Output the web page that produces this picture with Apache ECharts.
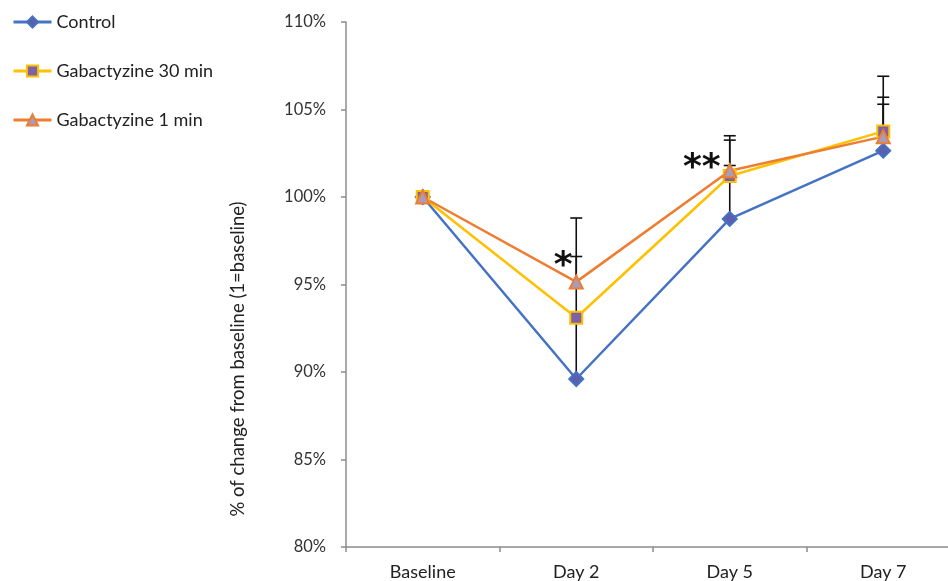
<!DOCTYPE html>
<html>
<head>
<meta charset="utf-8">
<script src="https://cdn.jsdelivr.net/npm/echarts@6/dist/echarts.min.js"></script>
<style>
  html, body { margin: 0; padding: 0; background: #fff; overflow: hidden; }
  /* plot runs past the right edge of the window, like the cropped original */
  #main { width: 960px; height: 581px; }
</style>
</head>
<body>
<div id="main"></div>
<script>
// data
const categories = ['Baseline', 'Day 2', 'Day 5', 'Day 7'];
const control = [100, 89.6, 98.75, 102.65];
const gaba30 = [100, 93.1, 101.2, 103.75];
const gaba1 = [100, 95.15, 101.5, 103.45];
// upper error amounts (only plus side is drawn)
const errControl = [0, 9.2, 4.75, 4.25];
const errGaba30 = [0, 0, 0.6, 1.55];
const errGaba1 = [0, 1.45, 1.75, 2.25];
const yTicks = { min: 80, max: 110, step: 5 };
const stars = [['Day 2', 96.6, '*'], ['Day 5', 102.2, '**']];
const yTitle = '% of change from baseline (1=baseline)';

const chart = echarts.init(document.getElementById('main'));
const FONT = 'Lato';

// one row per error bar: [catIndex, low, high]
function errRows(vals, errs) {
    const rows = [];
    vals.forEach((v, i) => { if (errs[i] > 0) rows.push([i, v, v + errs[i]]); });
    return rows;
}
const errData = [].concat(
    errRows(control, errControl),
    errRows(gaba30, errGaba30),
    errRows(gaba1, errGaba1)
);

function lineSeries(name, data, symbol, size, lineColor, fill) {
    return {
        name: name,
        type: 'line',
        data: data,
        symbol: symbol,
        symbolSize: size,
        z: 3,
        lineStyle: { color: lineColor, width: 2.5 },
        itemStyle: { color: fill, borderColor: lineColor, borderWidth: 2 }
    };
}

const option = {
    animation: false,
    backgroundColor: '#fff',
    textStyle: { fontFamily: FONT },
    legend: {
        orient: 'vertical',
        left: 7,
        top: 8,
        itemWidth: 38,
        itemHeight: 14,
        itemGap: 31,
        lineStyle: { width: 3 },
        textStyle: { fontFamily: FONT, fontSize: 18, color: '#222' },
        data: ['Control', 'Gabactyzine 30 min', 'Gabactyzine 1 min']
    },
    grid: { left: 346, right: 0, top: 22, bottom: 34 },
    graphic: [{
        type: 'text',
        x: 238,
        y: 359,
        rotation: Math.PI / 2,
        style: {
            text: yTitle,
            align: 'center',
            verticalAlign: 'middle',
            fontFamily: FONT,
            fontSize: 18.5,
            fill: '#222'
        }
    }],
    xAxis: {
        type: 'category',
        data: categories,
        boundaryGap: true,
        axisLine: { lineStyle: { color: '#8c8c8c', width: 1.5 } },
        axisTick: { show: true, length: 5, lineStyle: { color: '#8c8c8c', width: 1.5 } },
        axisLabel: { fontFamily: FONT, fontSize: 18, color: '#222', margin: 16 }
    },
    yAxis: {
        type: 'value',
        min: yTicks.min,
        max: yTicks.max,
        interval: yTicks.step,
        splitLine: { show: false },
        axisLine: { show: true, lineStyle: { color: '#8c8c8c', width: 1.5 } },
        axisTick: { show: true, length: 5, lineStyle: { color: '#8c8c8c', width: 1.5 } },
        axisLabel: { fontFamily: FONT, fontSize: 16.5, color: '#333', margin: 20, formatter: '{value}%' }
    },
    series: [
        {
            type: 'custom',
            z: 1,
            silent: true,
            data: errData,
            renderItem: function (params, api) {
                const low = api.coord([api.value(0), api.value(1)]);
                const high = api.coord([api.value(0), api.value(2)]);
                const cap = 6;
                return {
                    type: 'group',
                    children: [
                        { type: 'line', shape: { x1: low[0], y1: low[1], x2: high[0], y2: high[1] },
                          style: { stroke: '#111', lineWidth: 1.6 } },
                        { type: 'line', shape: { x1: high[0] - cap, y1: high[1], x2: high[0] + cap, y2: high[1] },
                          style: { stroke: '#111', lineWidth: 1.6 } }
                    ]
                };
            }
        },
        lineSeries('Control', control, 'diamond', 14, '#4472C4', '#5b5fae'),
        lineSeries('Gabactyzine 30 min', gaba30, 'rect', 12, '#FFC000', '#7e62a6'),
        Object.assign(lineSeries('Gabactyzine 1 min', gaba1, 'triangle', 13, '#ED7D31', '#a99cba'), {
            markPoint: {
                symbol: 'circle',
                symbolSize: 0,
                data: stars.map(s => ({
                    coord: [s[0], s[1]],
                    label: {
                        show: true,
                        formatter: s[2],
                        offset: [s[2].length > 1 ? -28 : -13, 10],
                        fontSize: 36,
                        fontWeight: 'bold',
                        fontFamily: 'DejaVu Sans',
                        color: '#111'
                    }
                }))
            }
        })
    ]
};

chart.setOption(option);
</script>
</body>
</html>
